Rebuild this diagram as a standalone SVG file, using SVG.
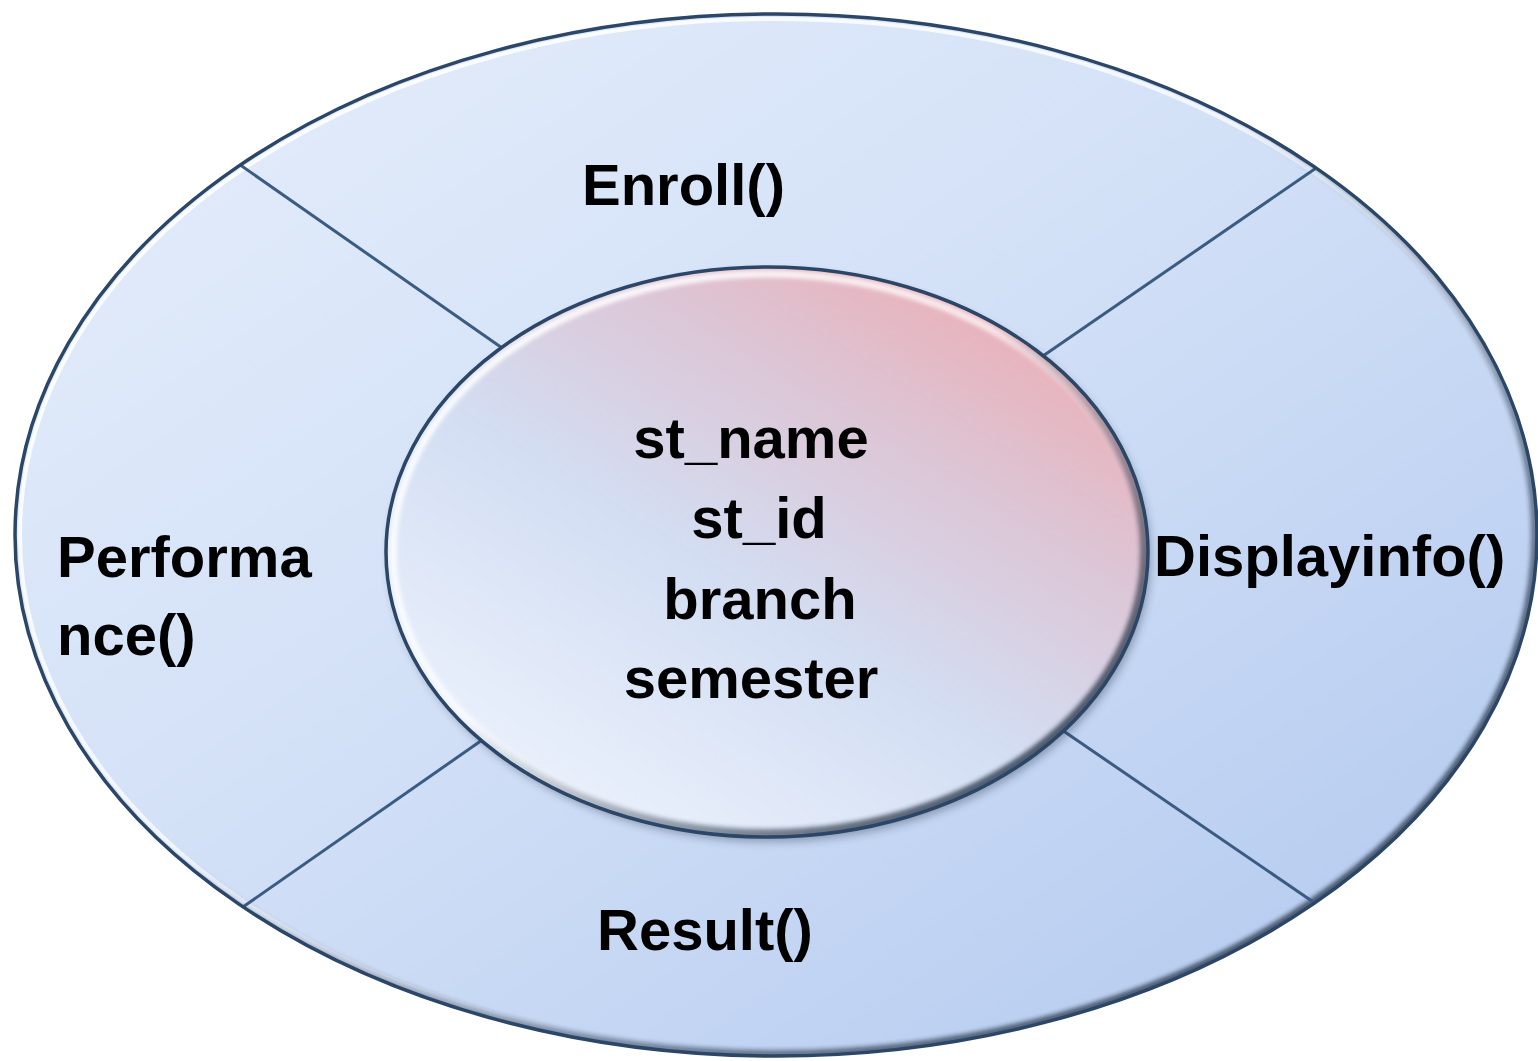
<svg xmlns="http://www.w3.org/2000/svg" width="1538" height="1061" viewBox="0 0 1538 1061">
  <defs>
    <linearGradient id="ringFill" x1="0" y1="0" x2="1" y2="1">
      <stop offset="0" stop-color="#e6eefb"/>
      <stop offset="0.45" stop-color="#d3e1f7"/>
      <stop offset="1" stop-color="#b0c7ee"/>
    </linearGradient>
    <linearGradient id="coreFill" x1="0.15" y1="0.95" x2="0.85" y2="0.1">
      <stop offset="0" stop-color="#edf3fd"/>
      <stop offset="0.45" stop-color="#d3def3"/>
      <stop offset="0.75" stop-color="#dcc6d6"/>
      <stop offset="1" stop-color="#eab0b8"/>
    </linearGradient>
    <linearGradient id="rimLight" x1="0" y1="0" x2="1" y2="1">
      <stop offset="0" stop-color="#ffffff" stop-opacity="1"/>
      <stop offset="0.45" stop-color="#ffffff" stop-opacity="0.7"/>
      <stop offset="0.7" stop-color="#ffffff" stop-opacity="0"/>
    </linearGradient>
    <linearGradient id="rimDark" x1="0" y1="0" x2="1" y2="1">
      <stop offset="0.45" stop-color="#1c2a3c" stop-opacity="0"/>
      <stop offset="0.8" stop-color="#1c2a3c" stop-opacity="0.65"/>
      <stop offset="1" stop-color="#1c2a3c" stop-opacity="0.9"/>
    </linearGradient>
    <filter id="soft" x="-5%" y="-5%" width="110%" height="110%">
      <feGaussianBlur stdDeviation="2"/>
    </filter>
    <filter id="shadow" x="-10%" y="-10%" width="120%" height="120%">
      <feGaussianBlur stdDeviation="4"/>
    </filter>
    <clipPath id="ringClip">
      <ellipse cx="776" cy="535" rx="761" ry="521"/>
    </clipPath>
    <clipPath id="coreClip">
      <ellipse cx="767" cy="552" rx="381" ry="285"/>
    </clipPath>
  </defs>
  <style>
    .label { font-family: "Liberation Sans", Arial, sans-serif; font-weight: bold; font-size: 58px; fill: #000000; }
    .mid { text-anchor: middle; }
    .edge { fill: none; stroke: #2b4666; stroke-width: 3.5; }
    .divider { stroke: #3a5b82; stroke-width: 3; }
  </style>

  <!-- outer ring with method labels -->
  <g id="ring">
    <ellipse cx="776" cy="535" rx="761" ry="521" fill="url(#ringFill)"/>
    <g clip-path="url(#ringClip)">
      <ellipse cx="776" cy="535" rx="756" ry="516" fill="none" stroke="url(#rimLight)" stroke-width="4"/>
      <ellipse cx="776" cy="535" rx="759" ry="519" fill="none" stroke="url(#rimDark)" stroke-width="8" filter="url(#soft)"/>
    </g>
  </g>

  <!-- segment dividers between the methods -->
  <g id="dividers" clip-path="url(#ringClip)">
    <line class="divider" x1="236" y1="162" x2="505" y2="350"/>
    <line class="divider" x1="1322" y1="164" x2="1040" y2="358"/>
    <line class="divider" x1="240" y1="909" x2="485" y2="738"/>
    <line class="divider" x1="1322" y1="908" x2="1062" y2="730"/>
  </g>

  <ellipse class="edge" cx="776" cy="535" rx="761" ry="521"/>

  <g id="enroll">
    <text class="label" x="582" y="205">Enroll()</text>
  </g>
  <g id="displayinfo">
    <text class="label" x="1154" y="576">Displayinfo()</text>
  </g>
  <g id="result">
    <text class="label" x="597" y="950">Result()</text>
  </g>
  <g id="performance">
    <text class="label" x="57" y="577">Performa</text>
    <text class="label" x="57" y="655">nce()</text>
  </g>

  <!-- inner core holding the data members -->
  <g id="core">
    <ellipse cx="770" cy="557" rx="381" ry="285" fill="#1c2a3c" opacity="0.35" filter="url(#shadow)"/>
    <ellipse cx="767" cy="552" rx="381" ry="285" fill="url(#coreFill)"/>
    <g clip-path="url(#coreClip)">
      <ellipse cx="767" cy="552" rx="374" ry="278" fill="none" stroke="url(#rimLight)" stroke-width="7" filter="url(#soft)"/>
      <ellipse cx="767" cy="552" rx="378" ry="282" fill="none" stroke="url(#rimDark)" stroke-width="10" filter="url(#soft)"/>
    </g>
    <ellipse class="edge" cx="767" cy="552" rx="381" ry="285"/>
    <text class="label mid" x="751" y="458">st_name</text>
    <text class="label mid" x="759" y="538">st_id</text>
    <text class="label mid" x="760" y="619">branch</text>
    <text class="label mid" x="751" y="698">semester</text>
  </g>
</svg>
